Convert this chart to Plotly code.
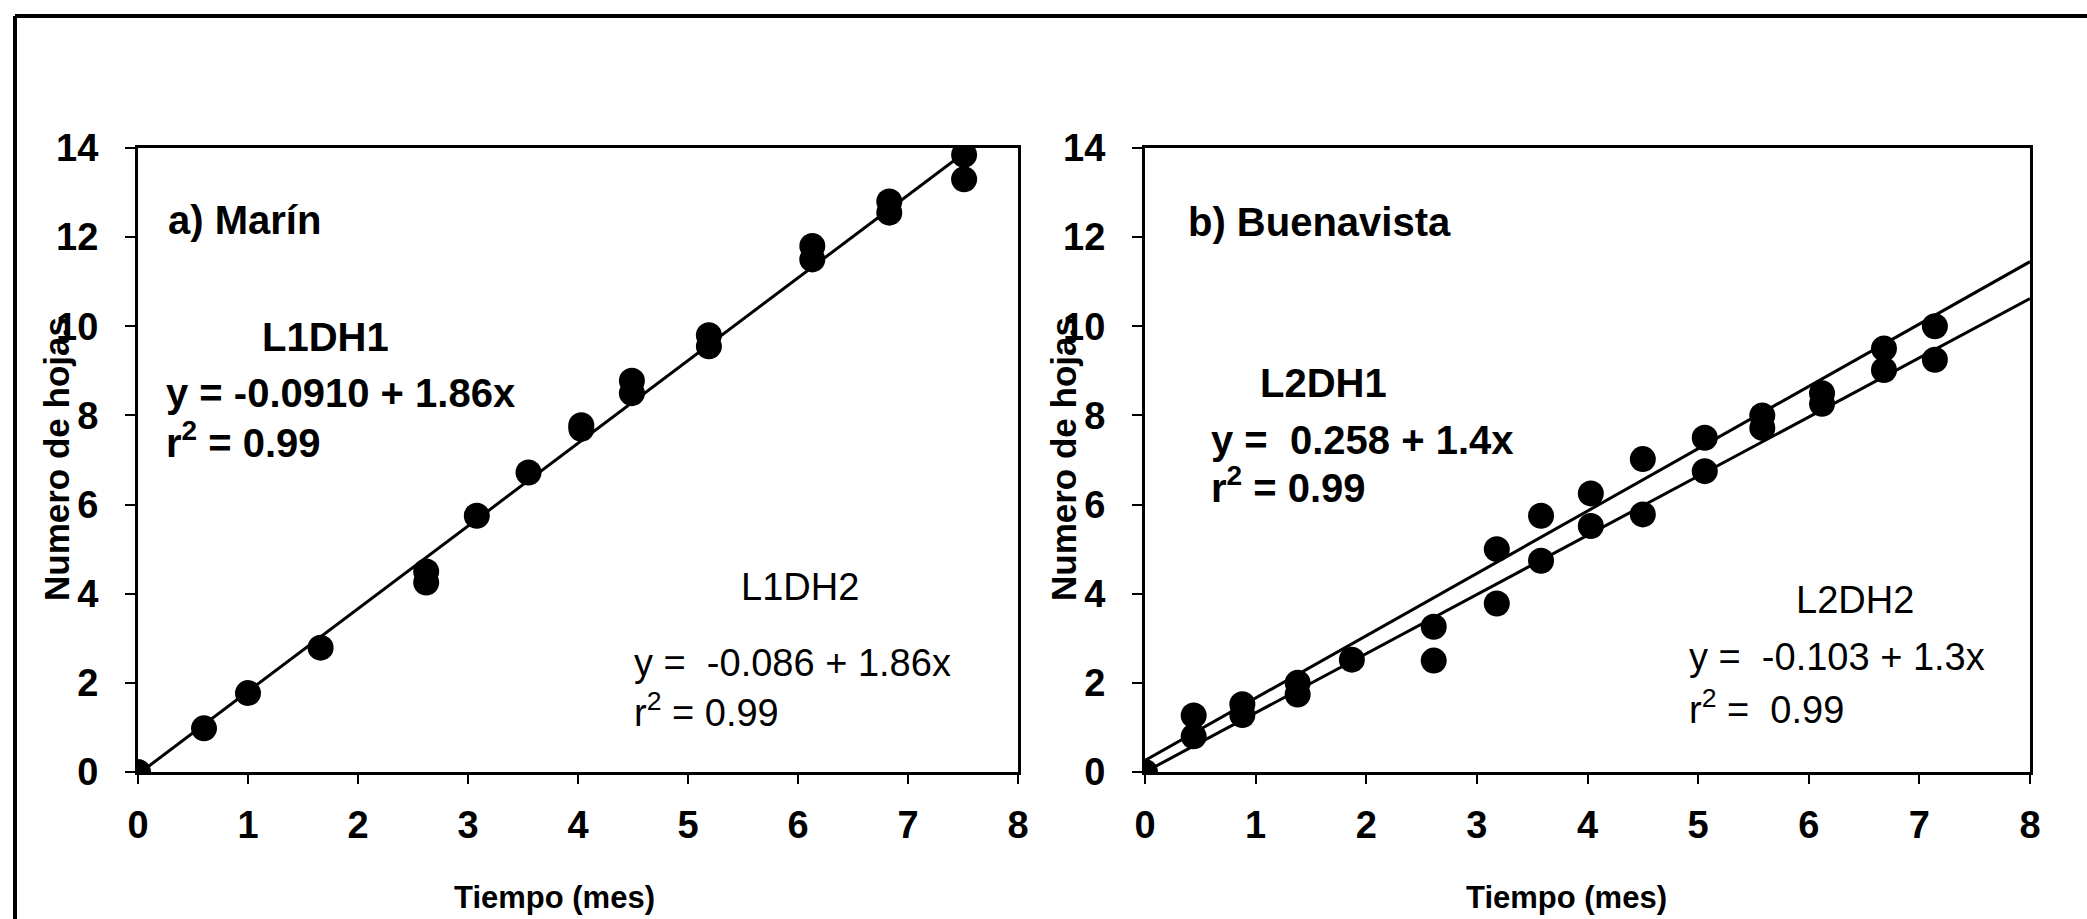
import plotly.graph_objects as go

# ---- data ----
a_x = [0, 0.6, 1.0, 1.66, 2.62, 2.62, 3.08, 3.55, 4.03, 4.03, 4.49, 4.49,
       5.19, 5.19, 6.13, 6.13, 6.83, 6.83, 7.51, 7.51]
a_y = [0, 0.98, 1.77, 2.79, 4.5, 4.25, 5.75, 6.72, 7.78, 7.7, 8.78, 8.5,
       9.8, 9.55, 11.8, 11.5, 12.8, 12.55, 13.85, 13.3]
a_line_x = [0, 7.57]
a_line_y = [-0.05, 14.0]

b_x = [0, 0.44, 0.44, 0.88, 0.88, 1.38, 1.38, 1.87, 2.61, 2.61, 3.18, 3.18,
       3.58, 3.58, 4.03, 4.03, 4.5, 4.5, 5.06, 5.06, 5.58, 5.58, 6.12, 6.12,
       6.68, 6.68, 7.14, 7.14]
b_y = [0, 1.27, 0.8, 1.52, 1.28, 2.0, 1.74, 2.52, 3.26, 2.5, 5.0, 3.78,
       5.75, 4.74, 6.25, 5.52, 7.02, 5.78, 7.5, 6.75, 8.0, 7.72, 8.5, 8.26,
       9.5, 9.02, 10.0, 9.25]
b_line1_x = [0, 8]
b_line1_y = [0.26, 11.45]
b_line2_x = [0, 8]
b_line2_y = [0.0, 10.62]

x_ticks = [0, 1, 2, 3, 4, 5, 6, 7, 8]
y_ticks = [0, 2, 4, 6, 8, 10, 12, 14]

FONT = "Arial, Liberation Sans, sans-serif"
W, H = 2087, 919

fig = go.Figure()
mk = dict(color="black", size=26)
ln = dict(color="black", width=3)

fig.add_trace(go.Scatter(x=a_line_x, y=a_line_y, mode="lines", line=ln, xaxis="x", yaxis="y", showlegend=False))
fig.add_trace(go.Scatter(x=a_x, y=a_y, mode="markers", marker=mk, xaxis="x", yaxis="y", showlegend=False))
fig.add_trace(go.Scatter(x=b_line1_x, y=b_line1_y, mode="lines", line=ln, xaxis="x2", yaxis="y2", showlegend=False))
fig.add_trace(go.Scatter(x=b_line2_x, y=b_line2_y, mode="lines", line=ln, xaxis="x2", yaxis="y2", showlegend=False))
fig.add_trace(go.Scatter(x=b_x, y=b_y, mode="markers", marker=mk, xaxis="x2", yaxis="y2", showlegend=False))

ydom = [1 - 772 / H, 1 - 148 / H]

def xax(dom, anchor):
    return dict(domain=dom, range=[0, 8], tickvals=x_ticks, ticks="outside", ticklen=9, tickwidth=2,
                tickcolor="black", showline=True, linecolor="black", linewidth=3, mirror=True,
                showgrid=False, zeroline=False, anchor=anchor, automargin=False,
                tickfont=dict(family=FONT, size=38, color="black", weight="bold"),
                ticklabelstandoff=8)

def yax(anchor):
    return dict(domain=ydom, range=[0, 14], tickvals=y_ticks, ticks="outside", ticklen=10, tickwidth=2,
                tickcolor="black", showline=True, linecolor="black", linewidth=3, mirror=True,
                showgrid=False, zeroline=False, anchor=anchor, automargin=False,
                tickfont=dict(family=FONT, size=38, color="black", weight="bold"),
                ticklabelstandoff=19)

fig.update_layout(
    template="none",
    width=W, height=H, autosize=False,
    margin=dict(l=0, r=0, t=0, b=0, pad=0),
    paper_bgcolor="white", plot_bgcolor="white",
    xaxis=xax([138 / W, 1018 / W], "y"),
    yaxis=yax("x"),
    xaxis2=xax([1145 / W, 2030 / W], "y2"),
    yaxis2=yax("x2"),
)

anns = []
def t(text, x, y, xa, ya, xanchor="left", bold=True, size=40):
    anns.append(dict(text=text, x=x, y=y, xref=xa, yref=ya, xanchor=xanchor, yanchor="middle",
                     showarrow=False, font=dict(family=FONT, size=size, color="black",
                                                weight="bold" if bold else "normal")))

# panel a
t("a) Marín", 0.25, 12.38, "x", "y")
t("L1DH1", 1.70, 9.76, "x", "y", xanchor="center")
t("y = -0.0910 + 1.86x", 0.24, 8.50, "x", "y")
t("r<sup>2</sup> = 0.99", 0.24, 7.45, "x", "y")
t("L1DH2", 6.02, 4.15, "x", "y", xanchor="center", bold=False, size=38)
t("y =  -0.086 + 1.86x", 4.49, 2.45, "x", "y", bold=False, size=38)
t("r<sup>2</sup> = 0.99", 4.49, 1.39, "x", "y", bold=False, size=38)
# panel b
t("b) Buenavista", 0.37, 12.34, "x2", "y2")
t("L2DH1", 1.61, 8.73, "x2", "y2", xanchor="center")
t("y =  0.258 + 1.4x", 0.58, 7.45, "x2", "y2")
t("r<sup>2</sup> = 0.99", 0.58, 6.44, "x2", "y2")
t("L2DH2", 6.42, 3.86, "x2", "y2", xanchor="center", bold=False, size=38)
t("y =  -0.103 + 1.3x", 4.90, 2.58, "x2", "y2", bold=False, size=38)
t("r<sup>2</sup> =  0.99", 4.90, 1.46, "x2", "y2", bold=False, size=38)

# axis titles
for xc in (554 / W, 1566 / W):
    anns.append(dict(text="Tiempo (mes)", x=xc, y=1 - 897 / H, xref="paper", yref="paper",
                     xanchor="center", yanchor="middle", showarrow=False,
                     font=dict(family=FONT, size=31, color="black", weight="bold")))
for xc in (56 / W, 1063 / W):
    anns.append(dict(text="Numero de hojas", x=xc, y=1 - 459 / H, xref="paper", yref="paper",
                     xanchor="center", yanchor="middle", showarrow=False, textangle=-90,
                     font=dict(family=FONT, size=35, color="black", weight="bold")))

fig.update_layout(annotations=anns)

# outer frame (top and left edges of the scanned figure border)
fig.add_shape(type="line", xref="paper", yref="paper", x0=15 / W, y0=1 - 16 / H, x1=1, y1=1 - 16 / H,
              line=dict(color="black", width=4))
fig.add_shape(type="line", xref="paper", yref="paper", x0=15 / W, y0=1 - 16 / H, x1=15 / W, y1=0,
              line=dict(color="black", width=4))

fig.write_html("out.html", config={"displayModeBar": False},
               post_script="document.body.style.margin='0';document.body.style.overflow='hidden';")
